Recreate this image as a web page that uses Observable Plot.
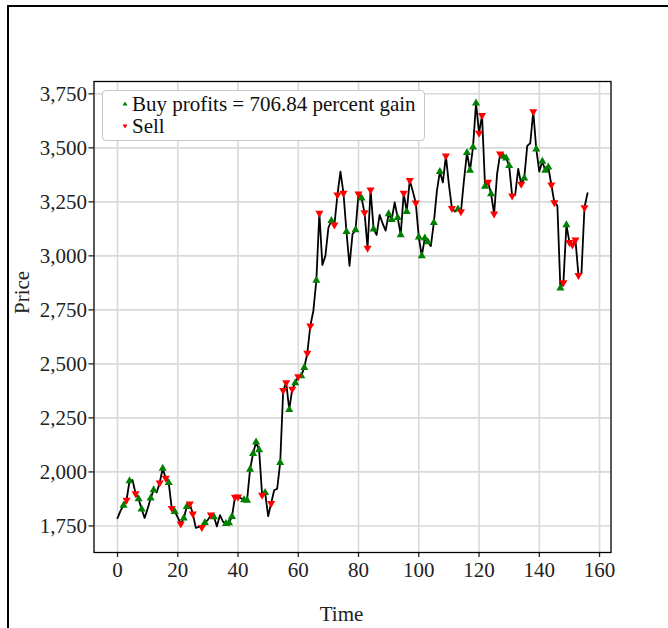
<!DOCTYPE html>
<html>
<head>
<meta charset="utf-8">
<script src="https://cdn.jsdelivr.net/npm/d3@7"></script>
<script src="https://cdn.jsdelivr.net/npm/@observablehq/plot@0.6"></script>
<style>
  html, body { margin: 0; padding: 0; background: #fff; overflow: hidden; }
  #wrap { position: relative; width: 668px; height: 628px; font-family: "Liberation Serif", "Times New Roman", serif; }
  #wrap svg { display: block; position: absolute; left: 0; top: 0; }
  #border { position: absolute; left: 7px; top: 5px; width: 720px; height: 720px; border: 2px solid #000; }
  #legend { position: absolute; left: 102px; top: 90px; width: 321px; height: 47px; box-sizing: content-box;
            border: 1px solid #c8c8c8; border-radius: 4px; background: #fff; font-size: 21px; line-height: 22px; color: #111; padding-top: 2px; }
  #legend .row { display: flex; align-items: center; height: 22px; white-space: nowrap; }
  #legend .row svg { position: static; display: inline-block; margin-left: 17px; margin-right: 2px; }
</style>
</head>
<body>
<div id="wrap"><div id="border"></div></div>
<script>
// Closing price for each time step 0..156
const price = [
  1786, 1820, 1845, 1870, 1958, 1962, 1900, 1875, 1828, 1787,
  1830, 1878, 1917, 1905, 1950, 2016, 1972, 1950, 1832, 1816,
  1790, 1760, 1786, 1839, 1852, 1806, 1741, 1746, 1744, 1765,
  1778, 1801, 1792, 1748, 1800, 1770, 1760, 1764, 1793, 1884,
  1885, 1878, 1870, 1868, 2012, 2085, 2138, 2102, 1893, 1904,
  1795, 1855, 1915, 1922, 2043, 2378, 2413, 2288, 2383, 2412,
  2441, 2444, 2483, 2550, 2676, 2745, 2886, 3198, 2958, 3000,
  3130, 3163, 3144, 3282, 3390, 3290, 3112, 2954, 3100, 3120,
  3287, 3267, 3200, 3036, 3306, 3124, 3097, 3190, 3150, 3117,
  3194, 3167, 3247, 3177, 3097, 3290, 3205, 3349, 3300, 3245,
  3087, 3000, 3082, 3065, 3045, 3154, 3300, 3390, 3340, 3463,
  3330, 3220, 3205, 3216, 3205, 3350, 3478, 3395, 3503, 3707,
  3568, 3650, 3321, 3341, 3287, 3194, 3380, 3472, 3460, 3452,
  3417, 3278, 3282, 3403, 3332, 3360, 3509, 3521, 3668, 3494,
  3390, 3437, 3395, 3410, 3329, 3247, 3233, 2850, 2876, 3143,
  3063, 3051, 3074, 2910, 2920, 3224, 3290
];

// Time steps with a buy signal
const buyAt = [
  2, 4, 7, 8, 11, 12, 15, 17, 19, 22, 23, 29, 32, 36, 37, 38, 42, 43, 44, 45,
  46, 47, 49, 54, 57, 59, 61, 62, 66, 71, 76, 79, 81, 85, 90, 91, 93, 94, 96,
  100, 101, 102, 103, 105, 107, 113, 116, 117, 118, 119, 122, 124, 128, 129,
  130, 135, 139, 141, 142, 143, 147, 149
];

// Time steps with a sell signal
const sellAt = [
  3, 6, 14, 16, 18, 21, 24, 25, 28, 31, 39, 40, 48, 51, 55, 56, 58, 60, 63, 64,
  67, 72, 73, 75, 80, 82, 83, 84, 95, 97, 99, 109, 111, 114, 120, 121, 123, 125,
  127, 131, 134, 138, 144, 145, 148, 150, 151, 152, 153, 155
];

const xTicks = [0, 20, 40, 60, 80, 100, 120, 140, 160];
const yTicks = [1750, 2000, 2250, 2500, 2750, 3000, 3250, 3500, 3750];
const legendItems = [
  { label: "Buy profits = 706.84 percent gain", color: "#008000", rotate: 0 },
  { label: "Sell", color: "#ff0000", rotate: 180 }
];

const series = price.map((p, t) => ({ t, p }));
const buys = buyAt.map(t => ({ t, p: price[t] }));
const sells = sellAt.map(t => ({ t, p: price[t] }));

const gridStyle = { stroke: "#d9d9d9", strokeOpacity: 1, strokeWidth: 1.6 };

const chart = Plot.plot({
  width: 668,
  height: 628,
  marginLeft: 93.5,
  marginRight: 57.5,
  marginTop: 81,
  marginBottom: 76,
  style: { fontFamily: "'Liberation Serif', 'Times New Roman', serif", fontSize: "21px", background: "transparent", color: "#222" },
  x: { domain: [-7.8, 163.8] },
  y: { domain: [1627, 3807] },
  marks: [
    Plot.gridX(xTicks, gridStyle),
    Plot.gridY(yTicks, gridStyle),
    Plot.axisX(xTicks, { tickSize: 5, tickPadding: 5, strokeWidth: 1.3, label: null }),
    Plot.axisY(yTicks, { tickSize: 5, tickPadding: 2, strokeWidth: 1.3, label: null, tickFormat: d3.format(",") }),
    Plot.line(series, { x: "t", y: "p", stroke: "#000", strokeWidth: 1.8 }),
    Plot.dot(buys, { x: "t", y: "p", symbol: "triangle", r: 3, fill: "#008000", stroke: "none" }),
    Plot.dot(sells, { x: "t", y: "p", symbol: "triangle", rotate: 180, r: 3, fill: "#ff0000", stroke: "none" }),
    Plot.frame({ stroke: "#000", strokeWidth: 1.3 }),
    Plot.text(["Time"], { frameAnchor: "bottom", dy: 68, dx: -11, fontSize: 21, fill: "#222" }),
    Plot.text(["Price"], { frameAnchor: "left", dx: -72, dy: -3, rotate: -90, fontSize: 21, fill: "#222" })
  ]
});

const wrap = document.getElementById("wrap");
wrap.appendChild(chart);

// Legend box overlaid on the top-left of the panel
const legend = document.createElement("div");
legend.id = "legend";
for (const item of legendItems) {
  const row = document.createElement("div");
  row.className = "row";
  row.innerHTML =
    `<svg width="10" height="10" viewBox="-5 -5 10 10"><polygon points="0,-2.6 -2.5,1.6 2.5,1.6" fill="${item.color}" transform="rotate(${item.rotate})"/></svg>` +
    `<span>${item.label}</span>`;
  legend.appendChild(row);
}
wrap.appendChild(legend);
</script>
</body>
</html>
